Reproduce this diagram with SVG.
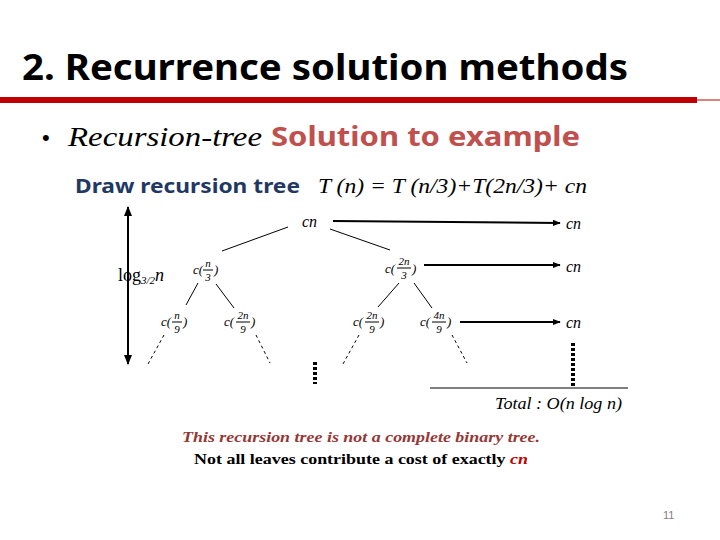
<svg xmlns="http://www.w3.org/2000/svg" width="720" height="540" viewBox="0 0 720 540">
<style>
.s{font-family:"Liberation Serif",serif;font-style:italic;fill:#000}
.f{font-family:"Liberation Serif",serif;font-style:italic;font-size:11px;fill:#000;text-anchor:middle}
.l{stroke:#000;stroke-width:1;fill:none}
.d{stroke:#000;stroke-width:1;stroke-dasharray:3,3;fill:none}
.a{stroke:#000;stroke-width:2;fill:none}
.dot{stroke:#000;stroke-width:4;stroke-dasharray:3,2;fill:none}
</style>
<defs>
<marker id="ar" viewBox="0 0 10 10" refX="9" refY="5" markerWidth="4" markerHeight="4" orient="auto"><path d="M0,1L10,5L0,9z" fill="#000"/></marker>
<marker id="ar2" viewBox="0 0 10 10" refX="9" refY="5" markerWidth="5" markerHeight="5" orient="auto-start-reverse"><path d="M0,1L10,5L0,9z" fill="#000"/></marker>
</defs>
<rect width="720" height="540" fill="#fff"/>
<text x="22" y="80" font-family="Noto Sans,sans-serif" font-weight="bold" font-size="36" fill="#000" textLength="606" lengthAdjust="spacingAndGlyphs">2. Recurrence solution methods</text>
<rect x="0" y="97" width="697" height="6" fill="#c00000"/>
<line x1="697" y1="100" x2="720" y2="100" stroke="#c00000" stroke-width="1"/>
<text x="42" y="145" font-family="Liberation Sans,sans-serif" font-size="22">•</text>
<text x="68" y="146" font-family="Liberation Serif,serif" font-style="italic" font-size="27" textLength="194" lengthAdjust="spacingAndGlyphs">Recursion-tree</text>
<text x="271" y="146" font-family="Noto Sans,sans-serif" font-weight="bold" font-size="26" fill="#c0504d" textLength="309" lengthAdjust="spacingAndGlyphs">Solution to example</text>
<text x="75" y="193" font-family="Noto Sans,sans-serif" font-weight="bold" font-size="20" fill="#1f3864" textLength="225" lengthAdjust="spacingAndGlyphs">Draw recursion tree</text>
<text x="318" y="193" class="s" font-size="21" textLength="269" lengthAdjust="spacingAndGlyphs">T (n) = T (n/3)+T(2n/3)+ cn</text>
<g id="edges">
<line class="l" x1="288" y1="227" x2="222" y2="251"/>
<line class="l" x1="330" y1="229" x2="390" y2="250"/>
<line class="l" x1="198" y1="283" x2="186" y2="305"/>
<line class="l" x1="216" y1="284" x2="234" y2="308"/>
<line class="l" x1="399" y1="283" x2="378" y2="307"/>
<line class="l" x1="414" y1="283" x2="432" y2="308"/>
<line class="d" x1="164" y1="335" x2="148" y2="364"/>
<line class="d" x1="256" y1="335" x2="270" y2="363"/>
<line class="d" x1="359" y1="335" x2="343" y2="364"/>
<line class="d" x1="452" y1="335" x2="467" y2="363"/>
<line class="a" x1="333" y1="221" x2="560" y2="223" marker-end="url(#ar)"/>
<line class="a" x1="424" y1="265" x2="560" y2="265" marker-end="url(#ar)"/>
<line class="a" x1="460" y1="322" x2="560" y2="322" marker-end="url(#ar)"/>
<line class="a" x1="128" y1="207" x2="128" y2="364" marker-start="url(#ar2)" marker-end="url(#ar2)"/>
<line class="dot" x1="315" y1="362" x2="315" y2="384"/>
<line class="dot" x1="573" y1="343" x2="573" y2="386"/>
<line class="l" x1="430" y1="388" x2="628" y2="388"/>
</g>
<g id="root"><text class="s" x="302" y="227" font-size="16">cn</text></g>
<g id="n3"><text class="s" x="193" y="274" font-size="13">c(</text><text class="f" x="208" y="267">n</text><line class="l" x1="203" y1="270" x2="213" y2="270"/><text class="f" x="208" y="281">3</text><text class="s" x="214" y="274" font-size="13">)</text></g>
<g id="n23"><text class="s" x="385" y="273" font-size="13">c(</text><text class="f" x="404" y="265">2n</text><line class="l" x1="397" y1="268" x2="411" y2="268"/><text class="f" x="404" y="279">3</text><text class="s" x="412" y="273" font-size="13">)</text></g>
<g id="n9"><text class="s" x="161" y="326" font-size="13">c(</text><text class="f" x="177" y="319">n</text><line class="l" x1="172" y1="322" x2="182" y2="322"/><text class="f" x="177" y="333">9</text><text class="s" x="183" y="326" font-size="13">)</text></g>
<g id="n29a"><text class="s" x="224" y="326" font-size="13">c(</text><text class="f" x="243" y="319">2n</text><line class="l" x1="236" y1="322" x2="250" y2="322"/><text class="f" x="243" y="333">9</text><text class="s" x="251" y="326" font-size="13">)</text></g>
<g id="n29b"><text class="s" x="353" y="326" font-size="13">c(</text><text class="f" x="372" y="319">2n</text><line class="l" x1="365" y1="322" x2="379" y2="322"/><text class="f" x="372" y="333">9</text><text class="s" x="380" y="326" font-size="13">)</text></g>
<g id="n49"><text class="s" x="420" y="326" font-size="13">c(</text><text class="f" x="439" y="319">4n</text><line class="l" x1="432" y1="322" x2="446" y2="322"/><text class="f" x="439" y="333">9</text><text class="s" x="447" y="326" font-size="13">)</text></g>
<g id="sums">
<text class="s" x="566" y="229" font-size="16">cn</text>
<text class="s" x="566" y="272" font-size="16">cn</text>
<text class="s" x="566" y="328" font-size="16">cn</text>
<text class="s" x="495" y="409" font-size="16" textLength="127" lengthAdjust="spacingAndGlyphs">Total : O(n log n)</text>
</g>
<text x="118" y="281" font-family="Liberation Serif,serif" font-size="18">log<tspan font-size="11" font-style="italic" dy="3">3/2</tspan><tspan font-style="italic" dy="-3">n</tspan></text>
<text x="361" y="442" text-anchor="middle" font-family="Liberation Serif,serif" font-style="italic" font-weight="bold" font-size="15" fill="#953735" textLength="358" lengthAdjust="spacingAndGlyphs">This recursion tree is not a complete binary tree.</text>
<text x="361" y="464" text-anchor="middle" font-family="Liberation Serif,serif" font-weight="bold" font-size="15" textLength="334" lengthAdjust="spacingAndGlyphs">Not all leaves contribute a cost of exactly <tspan font-style="italic" fill="#c00000">cn</tspan></text>
<text x="663" y="519" font-family="Liberation Sans,sans-serif" font-size="11" fill="#808080">11</text>
</svg>
